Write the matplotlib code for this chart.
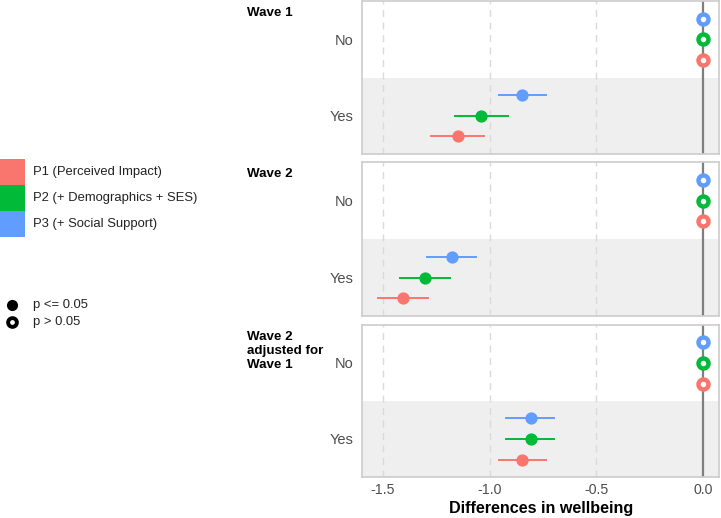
import numpy as np
import matplotlib.pyplot as plt
from matplotlib.patches import Rectangle
from matplotlib.lines import Line2D

plt.rcParams['font.family'] = ['Liberation Sans', 'DejaVu Sans']

panels = ['Wave 1', 'Wave 2', 'Wave 2\nadjusted for\nWave 1']
categories = ['Yes', 'No']
models = ['P1 (Perceived Impact)', 'P2 (+ Demographics + SES)', 'P3 (+ Social Support)']
colors = ['#F8766D', '#00BA38', '#619CFF']

# estimates for "Yes" (No is the reference, 0) per panel, per model P1..P3
est = [[-1.15, -1.04, -0.846],
       [-1.407, -1.302, -1.178],
       [-0.849, -0.808, -0.808]]
lo = [[-1.276, -1.162, -0.957],
      [-1.524, -1.419, -1.292],
      [-0.958, -0.921, -0.921]]
hi = [[-1.025, -0.913, -0.737],
      [-1.287, -1.184, -1.063],
      [-0.738, -0.700, -0.700]]

W, H = 721, 518
fig = plt.figure(figsize=(W / 100, H / 100), dpi=100)

# panel boxes in pixels: (top, bottom)
boxes = [(1, 154), (162, 316), (325, 477)]
left, right = 362, 719
offsets = [-0.27, 0, 0.27]

for p, (top, bot) in enumerate(boxes):
    ax = fig.add_axes([left / W, 1 - bot / H, (right - left) / W, (bot - top) / H])
    ax.set_xlim(-1.598, 0.075)
    ax.set_ylim(0.5, 2.5)
    ax.axhspan(0.5, 1.5, color='#EFEFEF', zorder=0, lw=0)
    for gx in [-1.5, -1.0, -0.5]:
        ax.axvline(gx, color='#DADADA', lw=1.0, ls=(0, (5, 4)), zorder=1)
    ax.axvline(0, color='#7F7F7F', lw=1.6, zorder=2)
    for m in range(3):
        y_yes = 1 + offsets[m]
        ax.plot([lo[p][m], hi[p][m]], [y_yes, y_yes], color=colors[m], lw=1.4, zorder=3)
        ax.plot(est[p][m], y_yes, 'o', color=colors[m], ms=7.8, zorder=4)
        ax.plot(0, 2 + offsets[m], 'o', mfc='white', mec=colors[m], ms=7.2, mew=3.2, zorder=4)
    ax.set_yticks([1, 2])
    ax.set_yticklabels(categories, fontsize=10.5, color='#4D4D4D')
    ax.tick_params(axis='y', length=0, pad=6)
    ax.set_xticks([-1.5, -1.0, -0.5, 0.0])
    if p == 2:
        ax.set_xticklabels(['-1.5', '-1.0', '-0.5', '0.0'], fontsize=10.2, color='#4D4D4D')
        ax.tick_params(axis='x', length=0, pad=4)
    else:
        ax.set_xticklabels([])
        ax.tick_params(axis='x', length=0)
    for s in ax.spines.values():
        s.set_color('#CCCCCC')
        s.set_linewidth(1.2)
    fig.text(247 / W, 1 - (top + 6) / H, panels[p], fontsize=9.6, fontweight='bold',
             va='top', ha='left', linespacing=1.25)

# axis title placed directly so it stays inside the canvas
fig.text(541 / W, 1 - 513 / H, 'Differences in wellbeing', fontsize=11.6,
         fontweight='bold', ha='center', va='baseline')

# colour legend
for i, (lab, c) in enumerate(zip(models, colors)):
    y0 = 159 + i * 26
    fig.add_artist(Rectangle((0, 1 - (y0 + 26) / H), 25 / W, 26 / H,
                             transform=fig.transFigure, color=c, lw=0))
    fig.text(33 / W, 1 - (y0 + 13) / H, lab, fontsize=9.4, va='center', color='#222222')

# significance legend
fig.add_artist(Line2D([12 / W], [1 - 305 / H], marker='o', color='black', ms=7,
                      transform=fig.transFigure))
fig.add_artist(Line2D([12 / W], [1 - 322 / H], marker='o', mfc='white', mec='black',
                      ms=6.3, mew=2.8, transform=fig.transFigure))
fig.text(33 / W, 1 - 305 / H, 'p <= 0.05', fontsize=9.4, va='center', color='#222222')
fig.text(33 / W, 1 - 322 / H, 'p > 0.05', fontsize=9.4, va='center', color='#222222')

fig.savefig('out.png', dpi=100)
